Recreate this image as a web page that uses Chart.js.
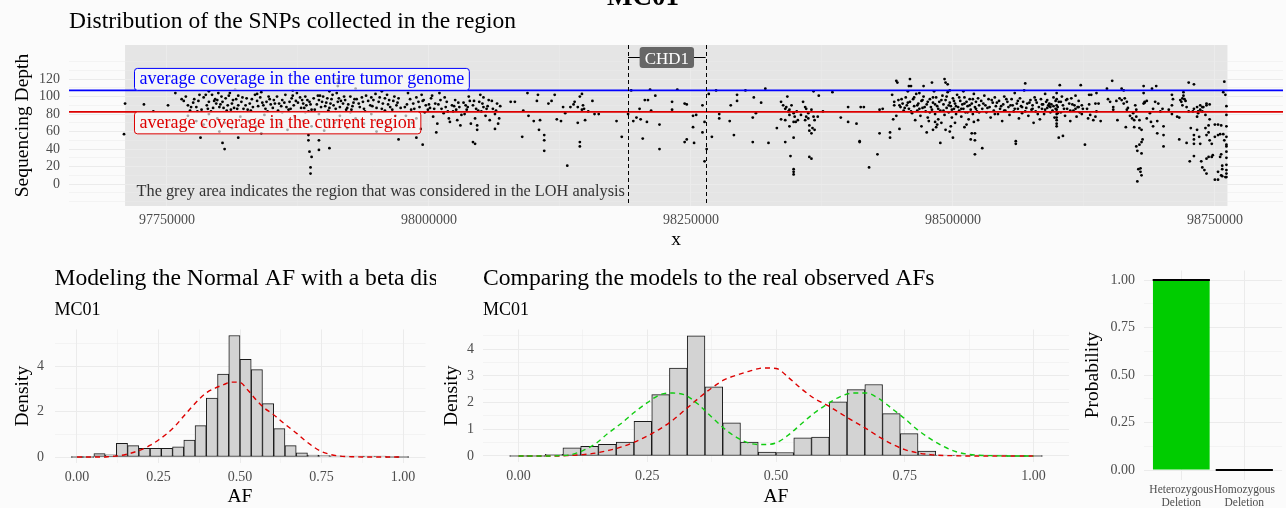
<!DOCTYPE html>
<html>
<head>
<meta charset="utf-8">
<title>MC01 – LOH region</title>
<script src="https://cdn.jsdelivr.net/npm/chart.js@4.4.1/dist/chart.umd.min.js"></script>
<style>
  html, body { margin: 0; padding: 0; background: #fbfbfb; }
  body { width: 1286px; height: 508px; position: relative; overflow: hidden; }
  canvas { position: absolute; display: block; }
</style>
</head>
<body>
<canvas id="chart-snp" width="1286" height="250" style="left:0;top:0"></canvas>
<canvas id="chart-normal" width="436" height="248" style="left:0;top:260px"></canvas>
<canvas id="chart-models" width="632" height="248" style="left:440px;top:260px"></canvas>
<canvas id="chart-prob" width="211" height="248" style="left:1075px;top:260px"></canvas>
<script>
// ── Data ──────────────────────────────────────────────────────
// SNP positions in kb (axis labels print them in bp) and sequencing depth
const SNP_LEFT = [
  [97710,92],[97709,57],[97728,91],[97737,83],[97751,90],[97758,104],
  [97764,97],[97766,95],[97770,90],[97773,88],[97775,93],[97778,88],[97780,95],[97781,102],[97783,85],[97785,99],
  [97788,90],[97790,94],[97793,102],[97794,87],[97796,97],[97797,92],[97799,104],[97800,88],[97802,100],[97803,94],
  [97804,87],[97806,98],[97808,90],[97810,104],[97812,92],[97814,87],[97816,97],[97818,90],[97821,94],[97823,86],
  [97826,98],[97829,92],[97832,88],[97836,95],[97839,99],[97842,90],[97845,94],[97848,97],[97851,87],[97855,100],
  [97857,92],[97860,96],[97863,102],[97864,88],[97867,94],[97869,98],[97871,90],[97874,104],[97875,93],[97878,87],
  [97879,96],[97882,100],[97883,90],[97886,94],[97888,85],[97890,98],[97893,91],[97895,96],[97897,88],[97899,100],
  [97902,93],[97905,87],[97907,97],[97909,90],[97912,104],[97913,94],[97914,98],[97915,88],[97918,92],[97920,96],
  [97922,87],[97925,100],[97928,93],[97931,97],[97934,88],[97937,94],[97940,101],[97944,90],[97947,96],[97950,87],
  [97953,99],[97956,92],[97960,102],[97963,88],[97966,95],[97969,90],[97971,98],
  [97772,84],[97792,83],[97811,85],[97830,84],[97846,83],[97866,85],[97885,83],[97904,84],[97921,85],[97939,83],
  [97958,84],[97798,96],[97818,101],[97836,103],[97853,92],[97880,92],[97896,101],[97927,89],[97945,99],[97962,96],
  [97768,100],[97776,97],[97779,83],[97787,102],[97789,86],[97795,95],[97801,91],[97807,84],[97809,101],[97813,96],
  [97817,86],[97822,99],[97825,90],[97827,85],[97831,97],[97834,102],[97837,89],[97841,93],[97844,86],[97847,100],
  [97849,91],[97852,96],[97856,84],[97859,89],[97862,93],[97868,86],[97870,101],[97873,95],[97877,99],[97881,87],
  [97884,96],[97887,91],[97891,85],[97894,101],[97898,94],[97901,89],[97903,98],[97906,92],[97908,102],[97911,86],
  [97916,95],[97919,100],[97923,91],[97926,85],[97929,97],[97933,92],[97936,99],[97938,86],[97942,95],[97946,89],
  [97949,103],[97952,94],[97955,86],[97958,98],[97961,91],[97965,85],[97967,100],[97970,93],[97973,87],
  [97770,78],[97778,72],[97785,68],[97790,80],[97798,75],[97805,70],[97812,64],[97820,77],[97828,72],[97835,66],
  [97843,79],[97850,74],[97858,69],[97865,62],[97872,77],[97880,72],[97888,66],[97895,80],[97903,74],[97910,70],
  [97915,78],[97922,64],[97930,75],[97938,69],[97945,80],[97952,73],[97960,67],[97968,78],[97800,60],[97840,58],
  [97860,82],[97882,82],[97900,61],[97925,82],[97950,60],
  [97790,106],[97815,108],[97840,105],[97870,107],[97905,106],[97913,112],[97913,116],[97913,120],[97930,109],[97955,106],
  [97782,53],[97803,47],[97805,40],[97818,53],[97885,56],[97885,50],[97895,50],[97886,37],[97888,31],[97887,19],
  [97887,12],[97905,41],[97895,39],[97971,51]
];
const SNP_MID = [
  [97980,104],[97982,97],[97985,92],[97988,99],[97990,94],[97991,88],[97993,102],[97995,96],[97997,90],[97999,85],
  [98002,98],[98004,77],[98006,92],[98008,69],[98010,104],[98012,86],[98014,81],[98017,94],[98019,75],[98022,90],
  [98023,83],[98025,96],[98027,73],[98029,88],[98031,79],[98033,93],[98036,85],[98038,100],[98040,69],[98042,90],
  [98044,75],[98046,67],[98048,94],[98050,83],[98052,88],[98054,78],[98057,96],[98058,73],[98061,86],[98063,80],
  [98065,92],[98067,75],[98049,102],[98052,99],[98020,71],[98030,67],
  [97978,78],[97984,70],[97992,63],[97988,75],
  [97977,88],[97983,85],[97996,82],[98001,87],[98009,91],[98016,88],[98026,85],[98035,90],[98045,86],[98056,89],
  [98003,101],[98015,99],[98039,95],
  [97979,91],[97986,86],[97994,95],[98000,91],[98005,86],[98011,96],[98018,83],[98024,89],[98028,93],[98034,80],
  [98037,88],[98043,95],[98047,84],[98051,92],[98055,86],[98060,95],[98064,84],[98068,89],
  [97994,45],[97988,53],[98007,59],[98042,48],[98044,46],[98046,62],[98063,63],[98066,69],
  [98078,94],[98082,94],[98090,84],[98089,54],[98094,104],[98095,78],[98100,72],[98106,73],[98103,95],[98104,102],
  [98105,62],[98110,56],[98110,50],[98110,38],[98114,92],[98117,95],[98120,102],[98122,74],[98126,72],[98128,88],
  [98130,81],[98132,21],[98135,88],[98138,91],
  [98139,94],[98142,88],[98146,85],[98147,90],[98144,100],[98146,103],[98148,86],[98142,70],[98144,48],[98144,43],
  [98149,73],[98152,83],[98156,95],[98158,80],[98162,80],
  [98179,72],[98184,54],[98190,80],[98193,107],[98201,86],[98206,96],[98209,96],[98216,101],[98195,72],[98198,76],
  [98202,74],[98208,71],[98212,84],[98204,52],[98211,108],[98220,68],[98220,40],[98232,94],[98232,85],[98237,108],
  [98244,92],[98246,91],[98244,48],[98246,51],
  [98252,78],[98255,79],[98252,65],[98253,47],[98261,90],[98261,59],[98263,71],[98267,103],[98263,26],[98265,40],
  [98270,54],[98274,107],[98277,80],[98277,75],[98287,72],[98288,90],[98291,56],[98294,102],[98294,95],[98302,107],
  [98309,76],[98310,99],[98312,81],[98309,48],[98317,93],[98321,109],[98324,47],[98332,64],[98340,48],[98342,100],
  [98336,94],[98338,90],[98340,86],[98341,88],[98343,83],[98344,85],[98344,79],[98346,90],[98348,81],[98349,77],
  [98351,83],[98352,73],[98336,74],[98340,73],[98344,66],[98348,71],[98350,71],[98357,94],[98359,88],[98360,77],
  [98362,81],[98365,85],[98367,77],[98368,73],[98371,77],[98363,67],[98366,64],[98363,61],[98365,58],[98368,62],
  [98360,86],[98355,79],[98359,73],[98362,75],
  [98348,17],[98348,14],[98348,11],[98345,32],[98348,53],[98363,31],[98365,29],[98367,106],[98372,101],[98376,83],
  [98385,105],[98393,76],[98400,88],[98400,71],[98408,69],[98411,49],[98411,48],[98412,88],[98415,88],[98420,19],
  [98428,34],[98430,58],[98430,85],[98433,86],
  [98440,59],[98440,53],[98442,102],[98444,94],[98444,90],[98443,74],[98446,78],[98446,118],[98447,116],[98449,63]
];
const SNP_RIGHT = [
  [98448,96],[98450,88],[98452,92],[98453,84],[98455,99],[98456,90],[98458,86],[98459,94],[98461,81],[98462,97],
  [98463,89],[98465,103],[98466,84],[98467,92],[98469,78],[98470,95],[98471,87],[98472,100],[98474,83],[98475,91],
  [98476,76],[98478,97],[98479,88],[98480,85],[98481,93],[98483,80],[98484,99],[98485,89],[98486,74],[98487,94],
  [98488,84],[98490,101],[98491,91],[98492,79],[98493,96],[98494,87],[98495,105],[98496,82],[98497,93],[98498,89],
  [98499,76],[98500,98],[98501,86],[98502,92],[98503,80],[98504,102],[98505,88],[98506,84],[98507,95],[98508,77],
  [98509,91],[98510,86],[98511,99],[98512,82],[98513,94],[98514,89],[98515,74],[98516,97],[98517,85],[98518,92],
  [98519,80],[98520,103],[98521,88],[98522,94],[98523,83],[98524,98],[98525,90],[98457,106],[98468,104],[98482,106],
  [98497,107],[98510,106],[98489,70],[98477,72],[98464,73],[98502,70],[98513,68],[98470,66],[98485,68],[98498,66],
  [98449,90],[98451,97],[98454,87],[98457,93],[98460,83],[98463,99],[98466,90],[98468,86],[98471,96],[98473,88],
  [98476,94],[98478,82],[98481,99],[98483,91],[98486,86],[98489,96],[98491,84],[98494,100],[98496,90],[98499,85],
  [98501,95],[98503,89],[98506,99],[98508,86],[98511,92],[98514,82],[98516,90],[98519,97],[98522,86],[98525,82],
  [98459,120],[98458,112],[98460,112],[98472,112],[98480,116],[98492,120],[98493,116],[98495,114],[98488,47],[98500,53],
  [98475,59],[98481,62],[98484,65],[98483,71],[98493,62],[98497,60],[98521,34],[98521,50],[98517,51],[98518,58],
  [98521,58],[98524,73],[98520,71],[98511,65],
  [98527,95],[98528,86],[98530,101],[98531,90],[98532,82],[98534,97],[98535,88],[98536,76],[98538,93],[98539,84],
  [98540,99],[98541,89],[98543,80],[98544,95],[98545,86],[98547,72],[98548,91],[98549,100],[98550,84],[98552,94],
  [98553,88],[98554,79],[98556,97],[98557,90],[98558,83],[98559,104],[98560,49],[98560,46],[98561,92],[98562,86],
  [98563,75],[98564,98],[98565,89],[98566,81],[98567,94],[98568,107],[98569,115],[98570,87],[98571,92],[98572,78],
  [98574,96],[98575,85],[98576,90],[98577,70],[98578,99],[98579,83],[98580,93],[98582,88],[98583,74],[98584,97],
  [98585,86],[98586,91],[98587,80],[98588,103],[98589,94],[98590,87],[98591,90],[98592,89],[98592,92],[98593,88],
  [98594,91],[98595,84],[98596,99],[98597,76],[98598,95],[98599,104],[98599,97],[98599,90],[98599,85],[98599,80],
  [98599,76],[98599,73],[98599,69],[98599,66],[98600,88],[98601,53],[98601,94],[98602,113],[98603,82],[98604,100],
  [98605,55],[98605,90],[98607,78],[98608,96],[98609,86],[98611,92],[98612,72],[98613,98],[98615,84],[98616,90],
  [98617,101],[98618,77],[98619,88],[98620,95],[98621,82],[98622,113],[98623,90],[98624,86],[98626,45],[98528,41],
  [98529,92],[98533,87],[98537,96],[98540,80],[98542,93],[98546,89],[98549,84],[98551,97],[98555,90],[98559,86],
  [98562,95],[98566,88],[98569,83],[98573,93],[98576,86],[98579,96],[98581,80],[98585,91],[98588,85],[98590,96],
  [98593,82],[98596,89],[98598,86],[98600,81],[98603,94],[98606,86],[98609,97],[98612,84],[98614,91],[98617,86],
  [98620,88],[98623,80]
];
const SNP_TAIL = [
  [98630,102],[98632,102],[98637,104],[98636,92],[98630,91],[98628,86],[98631,79],[98636,77],[98637,83],[98634,73],
  [98629,75],[98639,92],[98641,72],[98648,97],[98650,94],[98653,88],[98653,85],[98656,95],[98657,73],[98659,98],
  [98661,96],[98663,92],[98664,98],[98666,94],[98666,85],[98667,87],[98669,78],[98671,75],[98672,81],[98674,90],
  [98675,85],[98673,73],[98675,77],[98678,73],[98682,92],[98683,94],[98685,75],[98688,81],[98691,86],[98693,94],
  [98696,92],[98698,83],[98700,86],[98706,85],[98709,80],[98714,77],[98717,96],[98719,90],[98723,88],[98725,83],
  [98730,86],[98733,88],[98734,83],[98736,90],[98738,88],[98742,92],
  [98652,118],[98647,109],[98665,65],[98661,109],[98663,107],[98675,43],[98676,38],[98678,45],[98680,35],[98677,17],
  [98679,14],[98680,10],[98679,18],[98676,3],[98673,65],[98678,64],[98680,62],[98681,51],[98680,48],[98682,112],
  [98690,109],[98694,112],[98682,104],[98683,93],[98685,95],[98689,71],[98691,66],[98695,58],[98701,66],[98701,56],
  [98701,43],[98695,72],[98709,102],[98710,97],[98709,90],[98716,76],[98716,51],[98718,94],[98719,98],[98720,101],
  [98720,105],[98721,97],[98722,95],[98725,116],[98730,114],[98723,47],[98727,64],[98730,56],[98730,51],[98733,62],
  [98735,54],[98736,46],[98730,46],[98726,26],[98730,32],[98737,26],[98738,19],[98740,16],[98742,12],[98742,29],
  [98744,31],[98747,31],[98748,33],
  [98733,77],[98734,81],[98736,85],[98729,83],[98739,88],[98742,90],[98745,91],[98738,83],[98741,79],[98745,74],
  [98744,67],[98741,64],[98742,56],[98745,50],[98744,59],[98747,46],
  [98753,68],[98750,68],[98756,67],[98753,56],[98755,57],[98750,54],[98755,31],[98756,34],[98750,5],[98753,5],
  [98753,14],[98756,10],[98757,9],[98760,8],[98761,8],[98761,12],[98761,16],[98761,22],[98761,30],[98761,37],
  [98761,45],[98761,54],[98761,66],[98761,79],[98761,89],[98759,117],[98758,105],[98760,102],[98758,57],[98759,50],
  [98761,43],[98757,21],[98757,17]
];

const SNP_X_LIMITS = [97656.5, 98815];
const SNP_Y_LIMITS = [-25.1, 158.9];
const SNP_X_GRID   = [97750, 97875, 98000, 98125, 98250, 98375, 98500, 98625, 98750];
const SNP_X_LABELS = [97750, 98000, 98250, 98500, 98750];
const SNP_Y_GRID   = [-20, -10, 0, 10, 20, 30, 40, 50, 60, 70, 80, 90, 100, 110, 120, 130, 140];
const SNP_Y_LABELS = [0, 20, 40, 60, 80, 100, 120];

const LOH_REGION   = [97710, 98762];   // grey area
const CHD1_REGION  = [98190, 98264];
const CHD1_LABEL_Y = 145;
const COV_GENOME   = 107;              // average coverage, entire tumor genome
const COV_REGION   = 82.5;             // average coverage, current region
const COV_LABEL_X  = 97719;
const NOTE_POS     = [97721, -9];

// AF histograms (30 bins) and model densities
const AF_BINS = [0, 0.0345, 0.069, 0.1034, 0.1379, 0.1724, 0.2069, 0.2414, 0.2759, 0.3103,
                 0.3448, 0.3793, 0.4138, 0.4483, 0.4828, 0.5172, 0.5517, 0.5862, 0.6207, 0.6552,
                 0.6897, 0.7241, 0.7586, 0.7931, 0.8276, 0.8621, 0.8966, 0.931, 0.9655, 1];
const NORMAL_HIST   = [0, 0, 0.15, 0.1, 0.6, 0.5, 0.38, 0.38, 0.38, 0.45, 0.75, 1.38, 2.6, 3.65, 5.35,
                       4.3, 3.85, 2.35, 1.25, 0.5, 0.18, 0.08, 0.06, 0.05, 0.03, 0.03, 0.01, 0.01, 0, 0];
const OBSERVED_HIST = [0, 0, 0.06, 0.31, 0.36, 0.44, 0.52, 1.3, 2.3, 3.3, 4.51, 2.59, 1.24, 0.52, 0.15,
                       0.13, 0.68, 0.71, 2.03, 2.49, 2.68, 1.59, 0.84, 0.18, 0.01, 0.01, 0.03, 0.01, 0, 0];
const CURVE_AF = [0, 0.025, 0.05, 0.075, 0.1, 0.125, 0.15, 0.175, 0.2, 0.225, 0.25, 0.275, 0.3, 0.325,
                  0.35, 0.375, 0.4, 0.425, 0.45, 0.475, 0.5, 0.525, 0.55, 0.575, 0.6, 0.625, 0.65, 0.675,
                  0.7, 0.725, 0.75, 0.775, 0.8, 0.825, 0.85, 0.875, 0.9, 0.925, 0.95, 0.975, 1];
const NORMAL_MODEL = [0, 0, 0, 0, 0.02, 0.05, 0.11, 0.21, 0.34, 0.52, 0.75, 1.02, 1.35, 1.76, 2.17, 2.55,
                      2.86, 3.04, 3.19, 3.3, 3.28, 2.93, 2.51, 2.15, 1.9, 1.6, 1.31, 1.03, 0.72, 0.45, 0.24,
                      0.12, 0.05, 0.02, 0.01, 0, 0, 0, 0, 0, 0];
const LOH_MODEL    = [0, 0, 0, 0.01, 0.04, 0.2, 0.47, 0.87, 1.23, 1.64, 2.0, 2.3, 2.36, 2.27, 1.92, 1.46,
                      1.02, 0.68, 0.47, 0.43, 0.49, 0.8, 1.22, 1.62, 1.95, 2.23, 2.36, 2.36, 2.15, 1.78, 1.4,
                      0.98, 0.64, 0.36, 0.16, 0.06, 0.02, 0.01, 0, 0, 0];
const AF_LIMITS = [-0.069, 1.069];
const AF_GRID   = [0, 0.125, 0.25, 0.375, 0.5, 0.625, 0.75, 0.875, 1];
const AF_LABELS = [0, 0.25, 0.5, 0.75, 1];

const PROB_CLASSES = ['Heterozygous Deletion', 'Homozygous Deletion'];
const PROB_VALUES  = [1.0, 0.0];
const PROB_GRID    = [0, 0.125, 0.25, 0.375, 0.5, 0.625, 0.75, 0.875, 1];
const PROB_LABELS  = [0, 0.25, 0.5, 0.75, 1];

// ── Style ─────────────────────────────────────────────────────
const FONT = "'Liberation Serif', 'Times New Roman', serif";
const TICK_COLOR = '#4d4d4d';
const GRID_COLOR = '#ebebeb';
const RED = '#dd0000', BLUE = '#0000ff', GREEN = '#11cc11';

Chart.defaults.font.family = FONT;
Chart.defaults.color = TICK_COLOR;
Chart.defaults.animation = false;
Chart.defaults.plugins.legend.display = false;
Chart.defaults.plugins.tooltip.enabled = false;

// linear axis with ggplot-like major/minor grid, fixed box size
function axis(o) {
  return {
    type: 'linear', min: o.min, max: o.max, offset: false,
    afterBuildTicks: s => { s.ticks = o.grid.map(v => ({ value: v })); },
    afterFit: s => {
      if (s.isHorizontal()) { s.height = o.size; s.paddingLeft = 0; s.paddingRight = 0; }
      else { s.width = o.size; s.paddingTop = 0; s.paddingBottom = 0; }
    },
    grid: { color: GRID_COLOR, drawTicks: false, offset: false,
            lineWidth: c => (c.tick && o.labels.includes(c.tick.value)) ? 1 : 0.5 },
    border: { display: false },
    ticks: { autoSkip: false, maxRotation: 0, minRotation: 0, padding: o.pad, color: TICK_COLOR,
             font: { size: o.tickSize || 14, lineHeight: o.tickLine || 1.2 },
             callback: v => o.labels.includes(v) ? o.fmt(v) : '' },
    title: { display: !!o.title, text: o.title || '', color: '#000',
             font: { size: 19.5, lineHeight: 1 }, padding: o.titlePad || 0 }
  };
}

function roundBox(ctx, x, y, w, h, fill, stroke) {
  ctx.beginPath();
  ctx.roundRect(x, y, w, h, 3);
  ctx.fillStyle = fill; ctx.fill();
  if (stroke) { ctx.strokeStyle = stroke; ctx.lineWidth = 1; ctx.stroke(); }
}

function coverageLabel(ctx, text, color, left, lineY, above) {
  ctx.font = `18px ${FONT}`;
  const w = ctx.measureText(text).width + 10, h = 22;
  const top = above ? lineY - h : lineY;
  roundBox(ctx, left, top, w, h, 'rgba(255,255,255,0.65)', color);
  ctx.fillStyle = color; ctx.textAlign = 'left'; ctx.textBaseline = 'alphabetic';
  ctx.fillText(text, left + 5, top + h - 6);
}

// ── 1. SNP distribution — scatter ─────────────────────────────
const snpDecor = {
  id: 'snpDecor',
  beforeDraw(chart) {
    const { ctx, chartArea: a, scales: { x } } = chart;
    const x0 = x.getPixelForValue(LOH_REGION[0]), x1 = x.getPixelForValue(LOH_REGION[1]);
    ctx.save();
    ctx.fillStyle = '#e5e5e5';
    ctx.fillRect(x0, a.top, x1 - x0, a.bottom - a.top);
    ctx.restore();
  },
  afterDatasetsDraw(chart) {
    const { ctx, chartArea: a, scales: { x, y } } = chart;
    ctx.save();
    [[COV_GENOME, BLUE], [COV_REGION, RED]].forEach(([v, col]) => {
      const py = y.getPixelForValue(v);
      ctx.strokeStyle = col; ctx.lineWidth = 1.6;
      ctx.beginPath(); ctx.moveTo(a.left, py); ctx.lineTo(a.right, py); ctx.stroke();
    });
    ctx.strokeStyle = '#000'; ctx.lineWidth = 1; ctx.setLineDash([4, 3]);
    CHD1_REGION.forEach(v => {
      const px = Math.round(x.getPixelForValue(v)) + 0.5;
      ctx.beginPath(); ctx.moveTo(px, a.top); ctx.lineTo(px, a.bottom); ctx.stroke();
    });
    ctx.setLineDash([]);
    const sy = Math.round(y.getPixelForValue(CHD1_LABEL_Y)) + 0.5;
    const sx0 = x.getPixelForValue(CHD1_REGION[0]), sx1 = x.getPixelForValue(CHD1_REGION[1]);
    ctx.beginPath(); ctx.moveTo(sx0, sy); ctx.lineTo(sx1, sy); ctx.stroke();
    ctx.font = `17px ${FONT}`;
    const tw = ctx.measureText('CHD1').width, cx = (sx0 + sx1) / 2;
    roundBox(ctx, cx - tw / 2 - 5, sy - 10.5, tw + 10, 21, '#666666');
    ctx.fillStyle = '#fff'; ctx.textAlign = 'center'; ctx.textBaseline = 'alphabetic';
    ctx.fillText('CHD1', cx, sy + 6);

    const lx = x.getPixelForValue(COV_LABEL_X);
    coverageLabel(ctx, 'average coverage in the entire tumor genome', BLUE, lx, y.getPixelForValue(COV_GENOME), true);
    coverageLabel(ctx, 'average coverage in the current region', RED, lx, y.getPixelForValue(COV_REGION), false);

    ctx.font = `16.3px ${FONT}`; ctx.fillStyle = '#333'; ctx.textAlign = 'left'; ctx.textBaseline = 'middle';
    ctx.fillText('The grey area indicates the region that was considered in the LOH analysis',
                 x.getPixelForValue(NOTE_POS[0]), y.getPixelForValue(NOTE_POS[1]));
    ctx.restore();
  },
  afterDraw(chart) {
    const { ctx } = chart;
    ctx.save();
    ctx.fillStyle = '#000'; ctx.textBaseline = 'alphabetic';
    ctx.textAlign = 'center'; ctx.font = `bold 27px ${FONT}`;
    ctx.fillText('MC01', 643, 5);
    ctx.textAlign = 'left'; ctx.font = `23.5px ${FONT}`;
    ctx.fillText('Distribution of the SNPs collected in the region', 69, 28);
    ctx.restore();
  }
};

new Chart(document.getElementById('chart-snp'), {
  type: 'scatter',
  data: {
    datasets: [{
      data: [...SNP_LEFT, ...SNP_MID, ...SNP_RIGHT, ...SNP_TAIL].map(([x, y]) => ({ x, y })),
      pointRadius: 1.4, pointBackgroundColor: '#000', pointBorderWidth: 0
    }]
  },
  options: {
    responsive: false,
    layout: { autoPadding: false, padding: { top: 45, right: 3, left: 0, bottom: 0 } },
    scales: {
      x: axis({ min: SNP_X_LIMITS[0], max: SNP_X_LIMITS[1], grid: SNP_X_GRID, labels: SNP_X_LABELS,
                fmt: v => String(Math.round(v * 1000)), size: 44, pad: 5.6, title: 'x', titlePad: { top: 0, bottom: 0 } }),
      y: axis({ min: SNP_Y_LIMITS[0], max: SNP_Y_LIMITS[1], grid: SNP_Y_GRID, labels: SNP_Y_LABELS,
                fmt: v => String(v), size: 69, pad: 9, title: 'Sequencing Depth', titlePad: { top: 13.2, bottom: 0 } })
    }
  },
  plugins: [snpDecor]
});

// ── 2./3. AF histograms with model densities ─────────────────
const panelTitle = (title, sub) => ({
  id: 'panelTitle',
  afterDraw(chart) {
    const { ctx, chartArea: a } = chart;
    ctx.save();
    ctx.fillStyle = '#000'; ctx.textAlign = 'left'; ctx.textBaseline = 'alphabetic';
    ctx.font = `23.6px ${FONT}`; ctx.fillText(title, a.left, 24.5);
    ctx.font = `18px ${FONT}`; ctx.fillText(sub, a.left, 55);
    ctx.restore();
  }
});

function afChart(id, hist, curves, o) {
  return new Chart(document.getElementById(id), {
    type: 'bar',
    data: {
      datasets: [
        ...curves.map((c, i) => ({
          type: 'line', data: CURVE_AF.map((x, k) => ({ x, y: c.values[k] })),
          borderColor: c.color, borderWidth: 1.4, borderDash: [5, 4], pointRadius: 0,
          cubicInterpolationMode: 'monotone', order: i
        })),
        {
          type: 'bar', data: AF_BINS.map((x, k) => ({ x, y: hist[k] })),
          backgroundColor: '#d3d3d3', borderColor: '#1a1a1a', borderWidth: 1, borderSkipped: false,
          barPercentage: 1, categoryPercentage: 1, minBarLength: 1, order: 10
        }
      ]
    },
    options: {
      responsive: false,
      layout: { autoPadding: false, padding: { top: o.top, right: o.right, left: 0, bottom: 0 } },
      scales: {
        x: axis({ min: AF_LIMITS[0], max: AF_LIMITS[1], grid: AF_GRID, labels: AF_LABELS,
                  fmt: v => v.toFixed(2), size: o.xSize, pad: 5.7, title: 'AF', titlePad: { top: 0, bottom: 1.75 } }),
        y: axis({ min: o.yMin, max: o.yMax, grid: o.yGrid, labels: o.yLabels, fmt: v => String(v),
                  size: o.ySize, pad: o.yPad, title: 'Density', titlePad: { top: o.yTitlePad, bottom: 0 } })
      }
    },
    plugins: [panelTitle(o.title, 'MC01')]
  });
}

afChart('chart-normal', NORMAL_HIST, [{ values: NORMAL_MODEL, color: RED }], {
  title: 'Modeling the Normal AF with a beta distribution',
  top: 69.4, right: 10.5, xSize: 45, ySize: 54.5, yPad: 10.5, yTitlePad: 13.25,
  yMin: -0.264, yMax: 5.62, yGrid: [0, 1, 2, 3, 4, 5], yLabels: [0, 2, 4]
});

afChart('chart-models', OBSERVED_HIST, [{ values: LOH_MODEL, color: GREEN }, { values: NORMAL_MODEL, color: RED }], {
  title: 'Comparing the models to the real observed AFs',
  top: 69.5, right: 3, xSize: 46, ySize: 43, yPad: 9, yTitlePad: 2.25,
  yMin: -0.225, yMax: 4.743, yGrid: [0, 0.5, 1, 1.5, 2, 2.5, 3, 3.5, 4, 4.5], yLabels: [0, 1, 2, 3, 4]
});

// ── 4. Deletion type probability — bar ────────────────────────
new Chart(document.getElementById('chart-prob'), {
  type: 'bar',
  data: {
    datasets: [
      {
        type: 'line', data: PROB_VALUES.map((y, i) => ({ x: i + 1, y })), showLine: false,
        pointStyle: 'line', pointRadius: 28.6, pointBorderWidth: 2.2, pointBorderColor: '#000',
        pointBackgroundColor: '#000', order: 0, clip: false
      },
      {
        type: 'bar', data: PROB_VALUES.map((y, i) => ({ x: i + 1, y })),
        backgroundColor: '#00cc00', barPercentage: 0.9, categoryPercentage: 1, order: 1
      }
    ]
  },
  options: {
    responsive: false,
    layout: { autoPadding: false, padding: { top: 10.5, right: 3.9, left: 0, bottom: 0 } },
    scales: {
      x: axis({ min: 0.4, max: 2.6, grid: [1, 2], labels: [1, 2], fmt: v => PROB_CLASSES[v - 1].split(' '),
                size: 28.5, pad: 4, tickSize: 11.5, tickLine: 1.13 }),
      y: axis({ min: -0.05, max: 1.05, grid: PROB_GRID, labels: PROB_LABELS, fmt: v => v.toFixed(2),
                size: 68.5, pad: 8.5, title: 'Probability', titlePad: { top: 8.25, bottom: 0 } })
    }
  }
});
</script>
</body>
</html>
